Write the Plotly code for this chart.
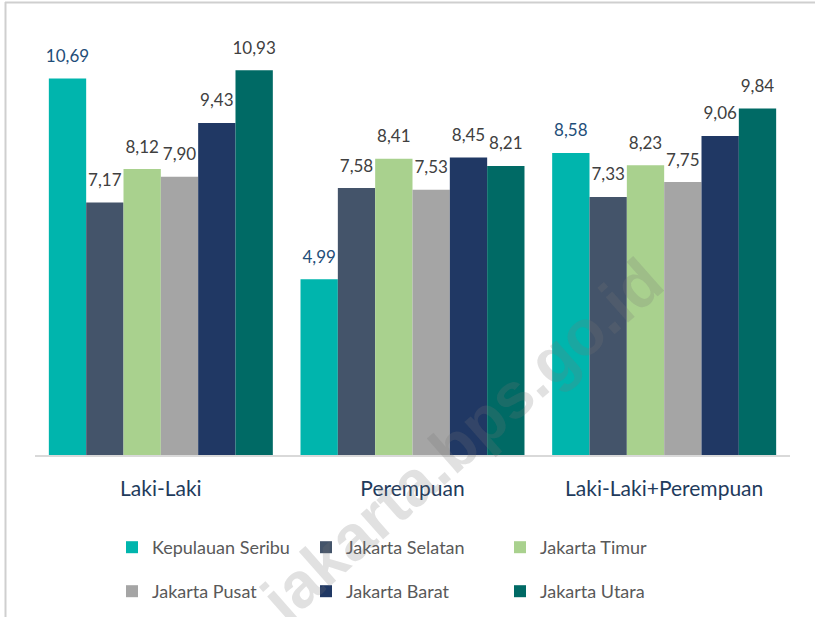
import plotly.graph_objects as go

categories = ["Laki-Laki", "Perempuan", "Laki-Laki+Perempuan"]
series_names = ["Kepulauan Seribu", "Jakarta Selatan", "Jakarta Timur",
                "Jakarta Pusat", "Jakarta Barat", "Jakarta Utara"]
kepulauan_seribu = [10.69, 4.99, 8.58]
jakarta_selatan = [7.17, 7.58, 7.33]
jakarta_timur = [8.12, 8.41, 8.23]
jakarta_pusat = [7.90, 7.53, 7.75]
jakarta_barat = [9.43, 8.45, 9.06]
jakarta_utara = [10.93, 8.21, 9.84]
series_values = [kepulauan_seribu, jakarta_selatan, jakarta_timur,
                 jakarta_pusat, jakarta_barat, jakarta_utara]

colors = ["#00B5AD", "#44546A", "#A9D18E", "#A5A5A5", "#203864", "#006A65"]
label_colors = ["#1F4E79", "#404040", "#404040", "#404040", "#404040", "#404040"]
legend_ids = ["legend", "legend", "legend", "legend2", "legend2", "legend2"]

W, H = 815, 617
ML, MR, MT, MB = 35, 25, 30, 162
pw, ph = W - ML - MR, H - MT - MB

def px_x(p):
    return (p - ML) / pw

def px_y(p):
    return (H - MB - p) / ph

FONT = "Lato, 'Open Sans', sans-serif"

fig = go.Figure()
for name, vals, c, lg in zip(series_names, series_values, colors, legend_ids):
    fig.add_trace(go.Bar(
        x=categories, y=vals, name=name,
        marker=dict(color=c, line=dict(width=0)),
        legend=lg, hoverinfo="skip",
    ))

# value labels: grouped scatter text traces aligned with the bars
for name, vals, lc in zip(series_names, series_values, label_colors):
    fig.add_trace(go.Scatter(
        x=categories, y=vals, mode="markers+text", name=name,
        marker=dict(size=18, opacity=0),
        texttemplate="%{y:.2f}", textposition="top center",
        textfont=dict(family=FONT, size=17, color=lc),
        showlegend=False, cliponaxis=False, hoverinfo="skip",
    ))

legend_common = dict(orientation="h", xanchor="left", yanchor="top",
                     entrywidth=149, entrywidthmode="pixels",
                     font=dict(family=FONT, size=18, color="#595959"),
                     bgcolor="rgba(0,0,0,0)", traceorder="normal")

fig.update_layout(
    width=W, height=H,
    margin=dict(l=ML, r=MR, t=MT, b=MB, autoexpand=False),
    paper_bgcolor="white", plot_bgcolor="white",
    barmode="group", bargap=0.11, bargroupgap=0,
    scattermode="group", scattergap=0.11,
    separators=",.",
    font=dict(family=FONT),
    showlegend=True,
    legend=dict(x=px_x(112), y=px_y(529), **legend_common),
    legend2=dict(x=px_x(112), y=px_y(573), **legend_common),
    xaxis=dict(showline=True, linecolor="#D9D9D9", linewidth=1.5,
               ticks="outside", ticklen=14, tickcolor="rgba(0,0,0,0)",
               tickfont=dict(family=FONT, size=21, color="#1F3B5C"),
               showgrid=False, zeroline=False),
    yaxis=dict(range=[0, 12.07], visible=False, showgrid=False, zeroline=False),
    shapes=[
        dict(type="line", xref="paper", yref="paper", layer="above",
             x0=px_x(5), x1=px_x(815), y0=px_y(2.5), y1=px_y(2.5),
             line=dict(color="#CFCFCF", width=2)),
        dict(type="line", xref="paper", yref="paper", layer="above",
             x0=px_x(5.5), x1=px_x(5.5), y0=px_y(2), y1=px_y(617),
             line=dict(color="#CFCFCF", width=2)),
    ],
    annotations=[
        dict(text="<b>jakarta.bps.go.id</b>", xref="paper", yref="paper",
             x=px_x(462), y=px_y(440), xanchor="center", yanchor="middle",
             showarrow=False, textangle=-41.5,
             font=dict(family="Liberation Sans, Arial, sans-serif", size=64,
                       color="rgba(120,120,120,0.22)")),
    ],
)

fig.write_html("out.html", config={"displayModeBar": False},
               post_script="document.body.style.margin='0';document.body.style.overflow='hidden';")
